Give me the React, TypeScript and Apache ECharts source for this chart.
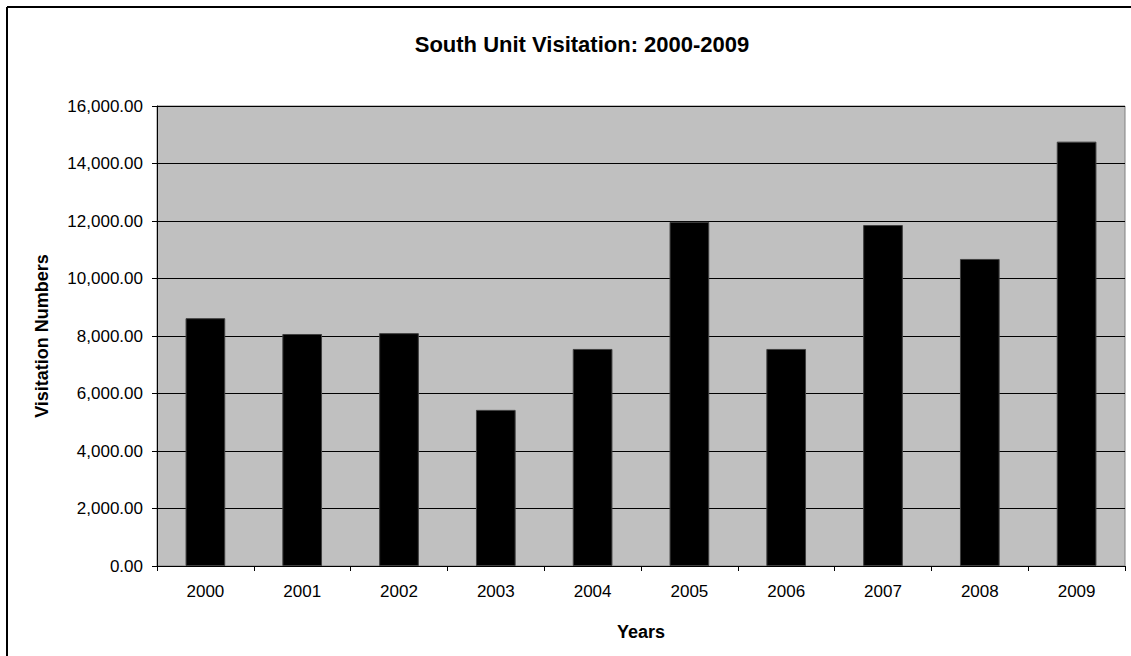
import React, { useEffect, useRef } from "react";
import * as echarts from "echarts";

const years = ["2000", "2001", "2002", "2003", "2004", "2005", "2006", "2007", "2008", "2009"];
const visits = [8620, 8070, 8100, 5430, 7550, 11970, 7550, 11860, 10680, 14760];
const titleText = "South Unit Visitation: 2000-2009";
const yName = "Visitation Numbers";
const xName = "Years";

const FONT = "Arial, 'Liberation Sans', sans-serif";

export default function App() {
  const ref = useRef<HTMLDivElement>(null);
  useEffect(() => {
    if (!ref.current) return;
    const chart = echarts.init(ref.current, undefined, { renderer: "svg" });
    chart.setOption({
      animation: false,
      backgroundColor: "#ffffff",
      textStyle: { fontFamily: FONT },
      title: {
        text: titleText,
        left: 577,
        top: 28,
        textAlign: "center",
        textStyle: { fontFamily: FONT, fontSize: 22, fontWeight: "bold", color: "#000" },
      },
      graphic: [
        { type: "line", shape: { x1: 7, y1: 7, x2: 7, y2: 660 }, style: { stroke: "#000", lineWidth: 2 } },
        { type: "line", shape: { x1: 7, y1: 7, x2: 1140, y2: 7 }, style: { stroke: "#000", lineWidth: 2 } },
      ],
      grid: {
        left: 157,
        right: 6,
        top: 106,
        bottom: 90,
        show: true,
        backgroundColor: "#C0C0C0",
        borderColor: "#808080",
        borderWidth: 1,
      },
      xAxis: {
        type: "category",
        data: years,
        name: xName,
        nameLocation: "middle",
        nameGap: 57,
        nameTextStyle: { fontFamily: FONT, fontSize: 18, fontWeight: "bold", color: "#000" },
        axisLine: { show: true, lineStyle: { color: "#000", width: 1 } },
        axisTick: { show: true, length: 5, lineStyle: { color: "#000" } },
        axisLabel: { margin: 17, fontFamily: FONT, fontSize: 17, color: "#000" },
      },
      yAxis: {
        type: "value",
        min: 0,
        max: 16000,
        interval: 2000,
        name: yName,
        nameLocation: "middle",
        nameGap: 106,
        nameRotate: 90,
        nameTextStyle: { fontFamily: FONT, fontSize: 18, fontWeight: "bold", color: "#000" },
        axisLine: { show: true, lineStyle: { color: "#000", width: 1 } },
        axisTick: { show: true, length: 5, lineStyle: { color: "#000" } },
        axisLabel: {
          margin: 14,
          fontFamily: FONT,
          fontSize: 17,
          color: "#000",
          formatter: (v: number) => v.toLocaleString("en-US", { minimumFractionDigits: 2, maximumFractionDigits: 2 }),
        },
        splitLine: { show: true, lineStyle: { color: "#000", width: 1 } },
      },
      series: [
        {
          type: "bar",
          data: visits,
          barWidth: "41%",
          itemStyle: { color: "#000", borderColor: "#404040", borderWidth: 1 },
        },
      ],
    });
    return () => chart.dispose();
  }, []);
  return (
    <div
      ref={ref}
      style={{ position: "absolute", left: 0, top: 0, width: 1131, height: 656 }}
    />
  );
}
